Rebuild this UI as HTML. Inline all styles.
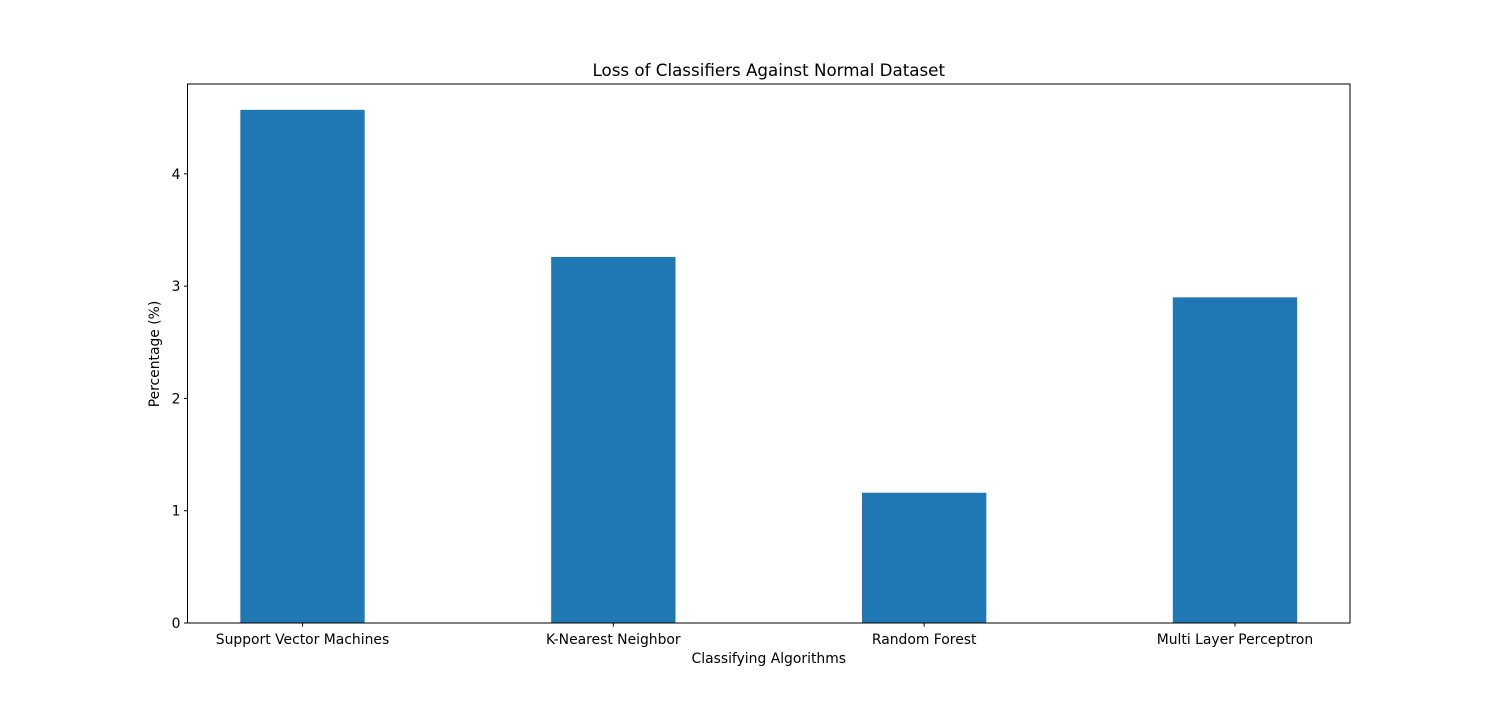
<!DOCTYPE html>
<html><head><meta charset="utf-8"><style>
body{margin:0;background:#fff;}
svg text{font-family:"DejaVu Sans","Liberation Sans",sans-serif;}
</style></head><body>
<svg id="chart" width="1500" height="700" xmlns="http://www.w3.org/2000/svg">
<rect width="1500" height="700" fill="#fff"/>
<g id="bars"></g>
<g id="xticks"></g>
<g id="yticks"></g>
<rect x="187.5" y="84" width="1162.5" height="539" fill="none" stroke="#000" stroke-width="1"/>
<text x="768.75" y="76" font-size="16.7" text-anchor="middle">Loss of Classifiers Against Normal Dataset</text>
<text x="768.75" y="663" font-size="13.9" text-anchor="middle">Classifying Algorithms</text>
<text transform="translate(159,354) rotate(-90)" font-size="13.9" text-anchor="middle">Percentage (%)</text>
</svg>
<script>
const categories = ["Support Vector Machines","K-Nearest Neighbor","Random Forest","Multi Layer Perceptron"];
const values = [4.57, 3.26, 1.16, 2.90];
const yTicks = [0,1,2,3,4];
const NS="http://www.w3.org/2000/svg";
const L=187.5,R=1350,T=84,B=623;
const xMin=-0.37,xMax=3.37,yMin=0,yMax=4.8;
const xs=v=>L+(v-xMin)/(xMax-xMin)*(R-L);
const ys=v=>B-(v-yMin)/(yMax-yMin)*(B-T);
function mk(tag,attrs,parent){const e=document.createElementNS(NS,tag);for(const k in attrs)e.setAttribute(k,attrs[k]);parent.appendChild(e);return e;}
const bars=document.getElementById('bars'),xt=document.getElementById('xticks'),yt=document.getElementById('yticks');
categories.forEach((c,i)=>{
  const x0=xs(i-0.2),x1=xs(i+0.2);
  const r=mk('rect',{x:x0,y:ys(values[i]),width:x1-x0,height:ys(0)-ys(values[i]),fill:'#1f77b4'},bars);
  
  
  const tl=mk('line',{x1:xs(i),x2:xs(i),y1:B,y2:B+3.5,stroke:'#000'},xt);
  
  
  const t=mk('text',{x:xs(i),y:B+21,'font-size':13.9,'text-anchor':'middle'},xt);
  t.textContent=c;
  
  
});
yTicks.forEach(v=>{
  const tl=mk('line',{x1:L-3.5,x2:L,y1:ys(v),y2:ys(v),stroke:'#000'},yt);
  
  
  const t=mk('text',{x:L-7,y:ys(v)+5,'font-size':13.9,'text-anchor':'end'},yt);
  t.textContent=v;
  
  
});
</script>
</body></html>
